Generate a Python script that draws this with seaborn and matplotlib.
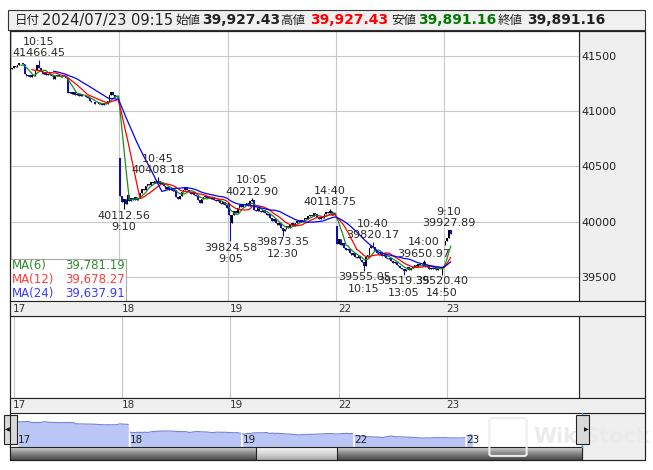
import numpy as np
import pandas as pd
import matplotlib
matplotlib.use("Agg")
import matplotlib.pyplot as plt
import matplotlib.patches as mpatches
import matplotlib.transforms as mtrans
from matplotlib.colors import LinearSegmentedColormap
import seaborn as sns

# ============ DATA ============
days = ["17", "18", "19", "22", "23"]
date_prefix = "2024/07/"
day_open = [41380.00, 40578.00, 40170.00, 39965.00, 39790.00]

# 5-minute closes, 9:00-11:25 (30 bars) + 12:30-14:55 (30 bars)
close_17 = [41395, 41405, 41398, 41420, 41432, 41440, 41425, 41340, 41318, 41325,
            41312, 41330, 41322, 41370, 41415, 41395, 41360, 41340, 41352, 41330,
            41338, 41325, 41318, 41290, 41315, 41328, 41320, 41310, 41322, 41315,
            41300, 41165, 41178, 41160, 41172, 41150, 41158, 41140, 41152, 41135,
            41142, 41125, 41118, 41095, 41080, 41088, 41070, 41062, 41075, 41068,
            41058, 41072, 41065, 41090, 41150, 41172, 41145, 41128, 41135, 41097.69]
close_18 = [40235, 40180, 40205, 40160, 40240, 40190, 40215, 40195, 40225, 40200,
            40215, 40260, 40300, 40285, 40320, 40345, 40330, 40360, 40350, 40372,
            40355, 40370, 40340, 40352, 40320, 40300, 40310, 40285, 40295, 40280,
            40290, 40225, 40205, 40230, 40270, 40285, 40310, 40290, 40270, 40255,
            40265, 40240, 40230, 40195, 40170, 40205, 40220, 40235, 40215, 40228,
            40210, 40222, 40200, 40185, 40195, 40170, 40160, 40178, 40150, 40126.35]
close_19 = [40060, 39985, 40060, 40095, 40075, 40120, 40150, 40135, 40165, 40150,
            40170, 40145, 40185, 40195, 40110, 40095, 40120, 40100, 40085, 40110,
            40080, 40060, 40070, 40030, 40010, 40025, 39990, 39970, 39985, 39945,
            39920, 39935, 39960, 39940, 39975, 39985, 39965, 39990, 40005, 39995,
            40020, 40010, 40035, 40025, 40050, 40065, 40055, 40075, 40068, 40040,
            40025, 40045, 40030, 40070, 40085, 40078, 40100, 40065, 40080, 40063.79]
close_22 = [39800, 39840, 39790, 39810, 39760, 39740, 39755, 39715, 39700, 39720,
            39680, 39670, 39690, 39655, 39640, 39600, 39680, 39700, 39760, 39780,
            39770, 39735, 39720, 39700, 39715, 39690, 39700, 39675, 39660, 39670,
            39645, 39630, 39640, 39610, 39600, 39585, 39570, 39555, 39575, 39590,
            39565, 39585, 39595, 39610, 39600, 39615, 39608, 39598, 39632, 39592,
            39602, 39568.6, 39585, 39570, 39590, 39560, 39575, 39572.1, 39589.55, 39599.00]
close_23 = [39830.00, 39850.00, 39927.43, 39891.16]
day_closes = [close_17, close_18, close_19, close_22, close_23]

# swing highs / lows marked on the chart
ann_day = ["17", "18", "18", "19", "19", "19", "19", "22", "22", "22", "22", "22", "23"]
ann_time = ["10:15", "9:10", "10:45", "9:05", "10:05", "12:30", "14:40",
            "10:15", "10:40", "13:05", "14:00", "14:50", "9:10"]
ann_kind = ["H", "L", "H", "L", "H", "L", "H", "L", "H", "L", "H", "L", "H"]
ann_price = [41466.45, 40112.56, 40408.18, 39824.58, 40212.90, 39873.35, 40118.75,
             39555.05, 39820.17, 39519.35, 39650.97, 39520.40, 39927.89]

ma_periods = [6, 12, 24]
ma_colors = ["#1e8c1e", "#ff0000", "#0000ff"]
ma_text_colors = ["#2e8b2e", "#ff3b3b", "#3b3bff"]
y_ticks = [39500, 40000, 40500, 41000, 41500]

BARS_PER_DAY = 60
W, H = 653, 470
PX_BAR = 1.806      # main chart pixels per bar
NAV_PX_BAR = 1.87   # navigator pixels per bar
UP_COL, DOWN_COL = "#000000", "#1010b0"


def time_to_bar(t):
    h, m = map(int, t.split(":"))
    mins = h * 60 + m
    return (mins - 540) // 5 if mins < 720 else 30 + (mins - 750) // 5


def bar_to_time(j):
    mins = 540 + 5 * j if j < 30 else 750 + 5 * (j - 30)
    return mins // 60, mins % 60


# ============ BUILD OHLC ============
rows = []
for di, (d, closes) in enumerate(zip(days, day_closes)):
    opens = [day_open[di]] + closes[:-1]
    for j, (o, c) in enumerate(zip(opens, closes)):
        rows.append(dict(day=d, j=j, idx=di * BARS_PER_DAY + j, open=o, close=c,
                         high=max(o, c), low=min(o, c)))
df = pd.DataFrame(rows)
for d, t, k, p in zip(ann_day, ann_time, ann_kind, ann_price):
    m = (df.day == d) & (df.j == time_to_bar(t))
    if k == "H":
        df.loc[m, "high"] = np.maximum(df.loc[m, "high"], p)
    else:
        df.loc[m, "low"] = np.minimum(df.loc[m, "low"], p)
for n in ma_periods:
    df[f"ma{n}"] = df.close.rolling(n).mean()

# ============ FIGURE ============
sns.set_style("white")
plt.rcParams["font.family"] = ["DejaVu Sans", "Noto Sans CJK JP"]
CJK = ["Noto Sans CJK JP", "DejaVu Sans"]

fig = plt.figure(figsize=(W / 100, H / 100), dpi=100)
fig.patch.set_facecolor("white")


def add_ax(x0, y0, x1, y1):
    return fig.add_axes([x0 / W, 1 - y1 / H, (x1 - x0) / W, (y1 - y0) / H])


def box(x0, y0, x1, y1, **kw):
    p = mpatches.Rectangle((x0 / W, 1 - y1 / H), (x1 - x0) / W, (y1 - y0) / H,
                           transform=fig.transFigure, **kw)
    fig.add_artist(p)
    return p


def ftext(x, y, s, **kw):
    return fig.text(x / W, 1 - y / H, s, **kw)


# header
box(8, 10, 645, 30, facecolor="#f0f0f0", edgecolor="#333333", lw=0.8, zorder=1)
last = df.iloc[-1]
hh, mm = bar_to_time(int(last.j))
hdr = [
    ("日付", 15, dict(family=CJK, fontsize=9, color="#222222")),
    (f"{date_prefix}{days[-1]} {hh:02d}:{mm:02d}", 42, dict(fontsize=10.5, color="#222222")),
    ("始値", 175, dict(family=CJK, fontsize=9, color="#222222")),
    (f"{last.open:,.2f}", 202, dict(fontsize=10, fontweight="bold", color="#222222")),
    ("高値", 280, dict(family=CJK, fontsize=9, color="#222222")),
    (f"{last.high:,.2f}", 310, dict(fontsize=10, fontweight="bold", color="#ff0000")),
    ("安値", 391, dict(family=CJK, fontsize=9, color="#222222")),
    (f"{last.low:,.2f}", 418, dict(fontsize=10, fontweight="bold", color="#007a00")),
    ("終値", 498, dict(family=CJK, fontsize=9, color="#222222")),
    (f"{last.close:,.2f}", 527, dict(fontsize=10, fontweight="bold", color="#222222")),
]
for s, x, kw in hdr:
    ftext(x, 20.5, s, ha="left", va="center", zorder=3, **kw)

# ============ MAIN PRICE PANEL ============
box(579, 31, 645, 301, facecolor="#efefef", edgecolor="#222222", lw=0.8, zorder=-1)
ax = add_ax(10, 31, 579, 301)
x0 = -0.5 - 1 / PX_BAR
x1 = x0 + 569 / PX_BAR
ax.set_xlim(x0, x1)
ax.set_ylim(39283, 41726)
for t in y_ticks:
    ax.axhline(t, color="#c8c8c8", lw=0.8, zorder=0)
for di in range(len(days)):
    ax.axvline(di * BARS_PER_DAY - 0.5, color="#c8c8c8", lw=0.8, zorder=0)

up = df.close >= df.open
cols = np.where(up, UP_COL, DOWN_COL)
ax.vlines(df.idx, df.low, df.high, colors=cols, lw=0.8, zorder=2)
ax.bar(df.idx, np.maximum((df.close - df.open).abs(), 5), bottom=np.minimum(df.open, df.close),
       width=0.9, color=cols, linewidth=0, zorder=2)

for n, c in zip(ma_periods, ma_colors):
    dm = df[["idx", f"ma{n}"]].dropna()
    sns.lineplot(data=dm, x="idx", y=f"ma{n}", ax=ax, color=c, lw=0.9, zorder=3, legend=False)

for d, t, k, p in zip(ann_day, ann_time, ann_kind, ann_price):
    xi = days.index(d) * BARS_PER_DAY + time_to_bar(t)
    if k == "H":
        tr = mtrans.offset_copy(ax.transData, fig=fig, y=1.5, units="dots")
        ax.text(xi, p, f"{t}\n{p:.2f}", transform=tr, ha="center", va="bottom",
                fontsize=8, color="#2a2a2a", zorder=4)
    else:
        tr = mtrans.offset_copy(ax.transData, fig=fig, y=-1.5, units="dots")
        ax.text(xi, p, f"{p:.2f}\n{t}", transform=tr, ha="center", va="top",
                fontsize=8, color="#2a2a2a", zorder=4)

ax.set_xticks([])
ax.set_yticks(y_ticks)
ax.set_yticklabels([str(t) for t in y_ticks])
ax.yaxis.tick_right()
ax.tick_params(axis="y", length=0, pad=1.5, labelsize=8, labelcolor="#222222")
ax.set_xlabel("")
ax.set_ylabel("")
for s in ax.spines.values():
    s.set_color("#222222")
    s.set_linewidth(0.8)

# MA legend box
box(10, 259, 126, 301, facecolor="white", edgecolor="#a0a0a0", lw=0.8, alpha=0.9, zorder=2)
for r, (n, c) in enumerate(zip(ma_periods, ma_text_colors)):
    yy = 266 + 14 * r
    ftext(12, yy, f"MA({n})", ha="left", va="center", fontsize=8.5, color=c, zorder=3)
    ftext(125, yy, f"{df[f'ma{n}'].iloc[-1]:,.2f}", ha="right", va="center",
          fontsize=8.5, color=c, zorder=3)

# date strips
blend_main = mtrans.blended_transform_factory(ax.transData, fig.transFigure)
for ys, ye in [(301, 316), (398, 413)]:
    box(10, ys, 645, ye, facecolor="#efefef", edgecolor="#222222", lw=0.8, zorder=2)
    for di, d in enumerate(days):
        fig.text(di * BARS_PER_DAY - 0.5 + 1.2, 1 - (ys + 7.5) / H, d, transform=blend_main,
                 ha="left", va="center", fontsize=7.5, color="#333333", zorder=3)

# ============ EMPTY SUB PANEL ============
box(579, 316, 645, 398, facecolor="#efefef", edgecolor="#222222", lw=0.8, zorder=-1)
ax2 = add_ax(10, 316, 579, 398)
ax2.set_xlim(x0, x1)
ax2.set_ylim(0, 1)
for di in range(len(days)):
    ax2.axvline(di * BARS_PER_DAY - 0.5 + 1.5, color="#c8c8c8", lw=0.8)
ax2.set_xticks([])
ax2.set_yticks([])
for s in ax2.spines.values():
    s.set_color("#222222")
    s.set_linewidth(0.8)

# ============ NAVIGATOR ============
box(582, 413, 645, 460, facecolor="#efefef", edgecolor="#222222", lw=0.8, zorder=-1)
ax3 = add_ax(10, 413, 582, 447)
nx0 = -0.5 - 7 / NAV_PX_BAR
ax3.set_xlim(nx0, nx0 + 572 / NAV_PX_BAR)
ax3.set_ylim(38550, 42400)
for d in days:
    seg = df[df.day == d]
    ax3.fill_between(seg.idx, seg.close, 38550, color="#b9c6f6", lw=0)
    ax3.plot(seg.idx, seg.close, color="#7482d6", lw=0.8)
ax3.axis("off")
blend_nav = mtrans.blended_transform_factory(ax3.transData, fig.transFigure)
for di, d in enumerate(days):
    fig.text(di * BARS_PER_DAY, 1 - 440 / H, d, transform=blend_nav, ha="left",
             va="center", fontsize=7.5, color="#222222", zorder=3)

# watermark
fig.add_artist(mpatches.FancyBboxPatch((492 / W, 1 - 454 / H), 32 / W, 34 / H,
                                       boxstyle="round,pad=0.004", transform=fig.transFigure,
                                       facecolor="none", edgecolor="#eeeeee", lw=1.5, zorder=5))
ftext(533, 437, "WikiStock", ha="left", va="center", fontsize=15, fontweight="bold",
      color="#ebebeb", zorder=5)

# handles and range markers
for xa in (10, 582):
    fig.add_artist(plt.Line2D([xa / W, xa / W], [1 - 413 / H, 1 - 447 / H],
                              transform=fig.transFigure, color="#2fb4e6", lw=1, zorder=6))
box(4, 415, 17, 444, facecolor="#d9d9d9", edgecolor="#222222", lw=0.8, zorder=7)
box(576, 415, 589, 444, facecolor="#d9d9d9", edgecolor="#222222", lw=0.8, zorder=7)
ftext(7, 429.5, "◀", ha="center", va="center", fontsize=4.5, color="#111111", zorder=8)
ftext(586, 429.5, "▶", ha="center", va="center", fontsize=4.5, color="#111111", zorder=8)

# scrollbar
ax4 = add_ax(10, 447, 582, 460)
grad = np.linspace(0, 1, 40).reshape(-1, 1)
ax4.imshow(grad, cmap=LinearSegmentedColormap.from_list("sb", ["#d4d4d4", "#858585", "#4a4a4a"]),
           aspect="auto", extent=(0, 572, 0, 1))
ax4.imshow(grad, cmap=LinearSegmentedColormap.from_list("th", ["#f6f6f6", "#d8d8d8", "#a9a9a9"]),
           aspect="auto", extent=(246, 327, 0, 1))
for xv in (246, 327):
    ax4.axvline(xv, color="#222222", lw=0.8)
ax4.set_xlim(0, 572)
ax4.set_ylim(0, 1)
ax4.set_xticks([])
ax4.set_yticks([])
for s in ax4.spines.values():
    s.set_color("#222222")
    s.set_linewidth(0.8)

# outer frame
box(10, 31, 645, 460, fill=False, edgecolor="#222222", lw=0.8, zorder=9)

fig.savefig("out.png", dpi=100)
